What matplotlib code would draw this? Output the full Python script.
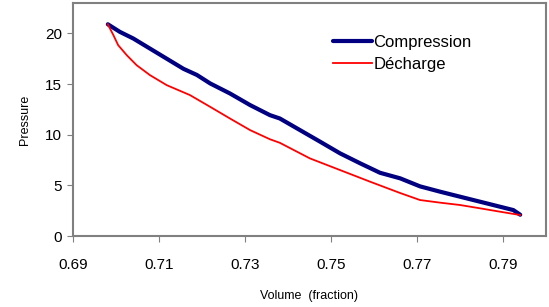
import numpy as np
import matplotlib.pyplot as plt

# data
comp_x = [0.6981, 0.7009, 0.7040, 0.7079, 0.7118, 0.7157, 0.7188, 0.7219,
          0.7265, 0.7312, 0.7358, 0.7381, 0.7428, 0.7475, 0.7521, 0.7568,
          0.7614, 0.7661, 0.7707, 0.7754, 0.7800, 0.7847, 0.7893, 0.7924,
          0.7940]
comp_y = [20.9, 20.15, 19.5, 18.5, 17.5, 16.5, 15.9, 15.06,
          14.07, 12.92, 11.93, 11.6, 10.45, 9.30, 8.16, 7.17,
          6.24, 5.69, 4.90, 4.37, 3.88, 3.38, 2.89, 2.56,
          2.10]

dech_x = [0.6981, 0.6994, 0.7005, 0.7025, 0.7048, 0.7079, 0.7118, 0.7172,
          0.7219, 0.7265, 0.7312, 0.7358, 0.7381, 0.7451, 0.7521, 0.7591,
          0.7661, 0.7707, 0.7754, 0.7800, 0.7847, 0.7893, 0.7940]
dech_y = [20.9, 19.82, 18.84, 17.85, 16.86, 15.88, 14.89, 13.91,
          12.75, 11.6, 10.45, 9.55, 9.2, 7.66, 6.51, 5.36,
          4.24, 3.55, 3.29, 3.06, 2.73, 2.40, 2.07]

x_ticks = [0.69, 0.71, 0.73, 0.75, 0.77, 0.79]
y_ticks = [0, 5, 10, 15, 20]

plt.rcParams['font.family'] = ['Liberation Sans', 'DejaVu Sans']

fig = plt.figure(figsize=(5.49, 3.07), dpi=100)
ax = fig.add_axes([73 / 549, 1 - 236 / 307, (546 - 73) / 549, (236 - 3) / 307])

ax.plot(comp_x, comp_y, color='#000080', lw=3, solid_capstyle='round',
        solid_joinstyle='round', label='Compression')
ax.plot(dech_x, dech_y, color='#ff0000', lw=1.3, solid_joinstyle='round',
        label='Décharge')

ax.set_xlim(0.69, 0.80)
ax.set_ylim(0, 23)
ax.set_xticks(x_ticks)
ax.set_xticklabels([f'{t:.2f}' for t in x_ticks])
ax.set_yticks(y_ticks)
ax.tick_params(axis='both', labelsize=11, direction='out', length=4,
               color='#808080', pad=4)
ax.tick_params(axis='x', pad=12)

for s in ax.spines.values():
    s.set_color('#808080')
    s.set_linewidth(1.5)

ax.set_xlabel('Volume  (fraction)', fontsize=9, labelpad=13)
ax.set_ylabel('Pressure', fontsize=9, labelpad=10)

ax.legend(loc='upper left', bbox_to_anchor=(325 / 549, 1 - 27 / 307),
          bbox_transform=fig.transFigure, frameon=False, fontsize=12,
          handlelength=2.3, handletextpad=0.1, labelspacing=0.4,
          borderpad=0)

fig.savefig('out.png', dpi=100)
